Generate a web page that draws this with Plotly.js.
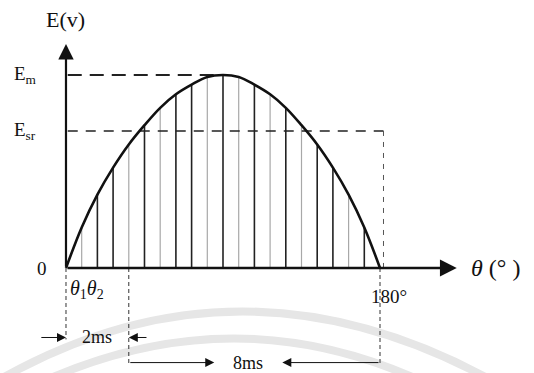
<!DOCTYPE html>
<html>
<head>
<meta charset="utf-8">
<script src="https://cdn.plot.ly/plotly-3.0.1.min.js"></script>
<style>html,body{margin:0;padding:0;background:#fff;}#chart{width:534px;height:373px;}</style>
</head>
<body>
<div id="chart"></div>
<script>
var thetaDeg = [0, 9, 18, 27, 36, 45, 54, 63, 72, 81, 90, 99, 108, 117, 126, 135, 144, 153, 162, 171, 180];
var emfValues = [0, 0.21, 0.38, 0.52, 0.64, 0.74, 0.83, 0.90, 0.95, 0.99, 1.00, 0.99, 0.95, 0.90, 0.83, 0.74, 0.64, 0.52, 0.38, 0.21, 0];
// Shade of each interior hatch line (index 1..19)
var hatchShade = ['light','dark','dark','light','dark','light','dark','dark','light','dark','light','dark','light','dark','light','dark','dark','light','dark'];
var emLevel = 1.00;     // Em
var esrLevel = 0.71;    // Esr
var theta2 = 36;        // θ2 (2 ms)
var thetaEnd = 180;     // 180°

var txtFont = 'Liberation Serif, DejaVu Serif, serif';

// build hatch traces
var dark = {x: [], y: []}, light = {x: [], y: []};
for (var i = 1; i < thetaDeg.length - 1; i++) {
  var t = hatchShade[i - 1] === 'dark' ? dark : light;
  t.x.push(thetaDeg[i], thetaDeg[i], null);
  t.y.push(0, emfValues[i], null);
}

var traces = [
  {x: light.x, y: light.y, mode: 'lines', line: {color: '#a8a8a8', width: 1.2}, hoverinfo: 'skip', showlegend: false},
  {x: dark.x, y: dark.y, mode: 'lines', line: {color: '#222', width: 1.6}, hoverinfo: 'skip', showlegend: false},
  // Em dashed
  {x: [1, 90], y: [emLevel, emLevel], mode: 'lines', line: {color: '#222', width: 2, dash: '14px,8px'}, showlegend: false, hoverinfo: 'skip'},
  // Esr dashed
  {x: [1, 182], y: [esrLevel, esrLevel], mode: 'lines', line: {color: '#222', width: 1.6, dash: '10px,8px'}, showlegend: false, hoverinfo: 'skip'},
  {x: [182, 182], y: [esrLevel, 0], mode: 'lines', line: {color: '#555', width: 1, dash: '5px,6px'}, showlegend: false, hoverinfo: 'skip'},
  // dashed drop lines below the axis
  {x: [0, 0], y: [0, -0.37], mode: 'lines', line: {color: '#333', width: 1, dash: '4px,3px'}, showlegend: false, hoverinfo: 'skip'},
  {x: [theta2, theta2], y: [0, -0.50], mode: 'lines', line: {color: '#333', width: 1, dash: '4px,3px'}, showlegend: false, hoverinfo: 'skip'},
  {x: [thetaEnd, thetaEnd], y: [0, -0.50], mode: 'lines', line: {color: '#333', width: 1, dash: '4px,3px'}, showlegend: false, hoverinfo: 'skip'},
  // curve
  {x: thetaDeg, y: emfValues, mode: 'lines', line: {color: '#111', width: 2.6, shape: 'spline', smoothing: 1}, showlegend: false, hoverinfo: 'skip'}
];

function arrow(x, y, ax, ay, w, s) {
  return {x: x, y: y, ax: ax, ay: ay, xref: 'x', yref: 'y', axref: 'x', ayref: 'y', text: '',
          showarrow: true, arrowhead: 2, arrowsize: s, arrowwidth: w, arrowcolor: '#111'};
}
function label(x, y, text, size, xanchor) {
  return {x: x, y: y, xref: 'x', yref: 'y', text: text, showarrow: false,
          xanchor: xanchor || 'center', yanchor: 'middle', font: {family: txtFont, size: size, color: '#111'}};
}

var annotations = [
  arrow(0, 1.16, 0, 0, 2.2, 1.4),          // y axis
  arrow(224, 0, 0, 0, 2.4, 1.4),           // x axis
  arrow(0, -0.36, -15, -0.36, 1, 1.8),     // 2ms left arrow
  arrow(theta2, -0.36, 47, -0.36, 1, 1.8), // 2ms right arrow
  arrow(85, -0.49, theta2, -0.49, 1, 1.8), // 8ms left part
  arrow(124, -0.49, thetaEnd, -0.49, 1, 1.8), // 8ms right part
  label(0, 1.29, 'E(v)', 22),
  label(-31, emLevel, 'E<sub>m</sub>', 19, 'left'),
  label(-31, esrLevel, 'E<sub>sr</sub>', 19, 'left'),
  label(-14, 0, '0', 19),
  label(12, -0.11, '<i>θ</i><sub>1</sub><i>θ</i><sub>2</sub>', 20),
  label(thetaEnd + 5, -0.15, '180°', 19),
  label(231, 0, '<i>θ</i> (° )', 24, 'left'),
  label(18, -0.36, '2ms', 18),
  label(104.5, -0.49, '8ms', 18)
];

// faint watermark arcs (paper coordinates)
function px(x, y) { return (x / 534).toFixed(4) + ',' + (1 - y / 373).toFixed(4); }
var shapes = [
  {type: 'path', xref: 'paper', yref: 'paper', layer: 'below',
   path: 'M' + px(-10, 385) + ' Q' + px(240, 238) + ' ' + px(500, 385), line: {color: '#e6e6e6', width: 8}},
  {type: 'path', xref: 'paper', yref: 'paper', layer: 'below',
   path: 'M' + px(35, 385) + ' Q' + px(235, 292) + ' ' + px(430, 385), line: {color: '#e6e6e6', width: 8}}
];

var layout = {
  width: 534, height: 373,
  margin: {l: 0, r: 0, t: 0, b: 0},
  paper_bgcolor: '#fff', plot_bgcolor: '#fff',
  xaxis: {range: [-37.83, 268.28], visible: false, fixedrange: true},
  yaxis: {range: [-0.544, 1.3886], visible: false, fixedrange: true},
  annotations: annotations,
  shapes: shapes,
  showlegend: false
};

Plotly.newPlot('chart', traces, layout, {staticPlot: true});
</script>
</body>
</html>
